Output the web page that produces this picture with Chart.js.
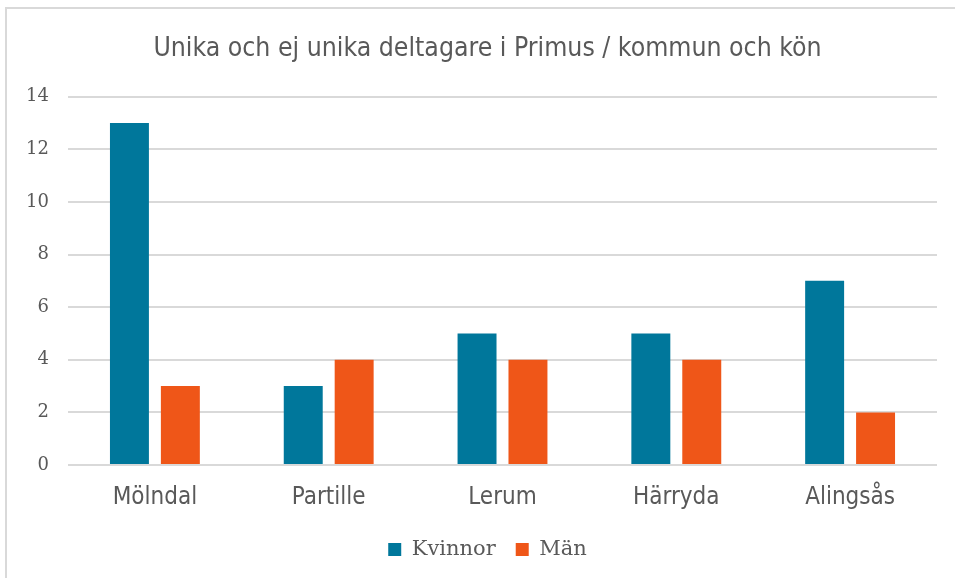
<!DOCTYPE html>
<html>
<head>
<meta charset="utf-8">
<script src="https://cdn.jsdelivr.net/npm/chart.js@4.4.1/dist/chart.umd.min.js"></script>
<style>
    html, body { margin: 0; padding: 0; background: #fff; overflow: hidden; }
    #frame {
        position: absolute; left: 5px; top: 7px; width: 980px; height: 580px;
        border-left: 2px solid #D9D9D9; border-top: 2px solid #D9D9D9;
    }
    #wrap { position: absolute; left: 0; top: 0; width: 975px; height: 578px; }
</style>
</head>
<body>
<div id="frame"></div>
<div id="wrap"><canvas id="chart"></canvas></div>
<script>
// Chart data
const kommuner = ['Mölndal', 'Partille', 'Lerum', 'Härryda', 'Alingsås'];
const kvinnor = [13, 3, 5, 5, 7];
const man = [3, 4, 4, 4, 2];
const yTicks = [0, 2, 4, 6, 8, 10, 12, 14];

const textColor = '#595959';
const gridColor = '#D9D9D9';
const sansFont = "'DejaVu Sans Condensed', 'Liberation Sans', sans-serif";
const serifFont = "'DejaVu Serif', serif";

document.addEventListener('DOMContentLoaded', function() {
    const ctx = document.getElementById('chart').getContext('2d');

    new Chart(ctx, {
        type: 'bar',
        data: {
            labels: kommuner,
            datasets: [{
                label: 'Kvinnor',
                data: kvinnor,
                backgroundColor: '#00779B'
            }, {
                label: 'Män',
                data: man,
                backgroundColor: '#EF5618'
            }]
        },
        options: {
            responsive: true,
            maintainAspectRatio: false,
            animation: false,
            datasets: {
                bar: { categoryPercentage: 0.586, barPercentage: 0.765 }
            },
            layout: { padding: { left: 0, right: 0, top: 0, bottom: 8 } },
            plugins: {
                title: {
                    display: true,
                    text: 'Unika och ej unika deltagare i Primus / kommun och kön',
                    color: textColor,
                    font: { family: sansFont, size: 26.4, weight: 'normal' },
                    padding: { top: 33, bottom: 32 }
                },
                legend: {
                    position: 'bottom',
                    labels: {
                        color: textColor,
                        boxWidth: 13,
                        boxHeight: 13,
                        padding: 20,
                        font: { family: serifFont, size: 21 }
                    }
                },
                tooltip: { enabled: false }
            },
            scales: {
                x: {
                    grid: { display: false, drawTicks: false },
                    border: { display: false },
                    ticks: {
                        color: textColor,
                        padding: 18,
                        font: { family: sansFont, size: 24 }
                    },
                    afterFit: function(scale) { scale.height = 54; }
                },
                y: {
                    min: 0,
                    max: 14,
                    afterBuildTicks: function(scale) {
                        scale.ticks = yTicks.map(v => ({ value: v }));
                    },
                    grid: { color: gridColor, lineWidth: 2, drawTicks: false },
                    border: { display: false },
                    ticks: {
                        color: textColor,
                        padding: 19,
                        font: { family: serifFont, size: 18 }
                    },
                    afterFit: function(scale) { scale.width = 68; }
                },
                // empty right-hand axis that only reserves margin space
                spacer: {
                    type: 'linear',
                    position: 'right',
                    min: 0,
                    max: 14,
                    grid: { display: false, drawTicks: false },
                    border: { display: false },
                    ticks: { display: false },
                    afterFit: function(scale) { scale.width = 38; }
                }
            }
        }
    });
});
</script>
</body>
</html>
